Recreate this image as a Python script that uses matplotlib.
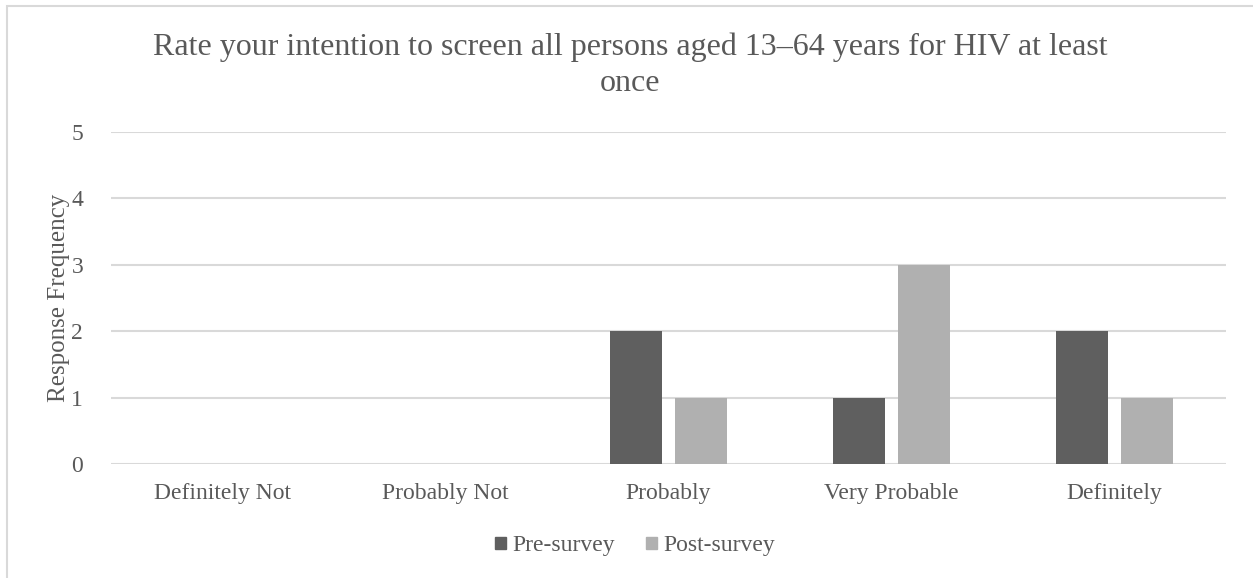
import numpy as np
import matplotlib.pyplot as plt
from matplotlib.patches import Rectangle, Patch

plt.rcParams['font.family'] = ['Liberation Serif', 'DejaVu Serif']

categories = ['Definitely Not', 'Probably Not', 'Probably', 'Very Probable', 'Definitely']
pre_survey = [0, 0, 2, 1, 2]
post_survey = [0, 0, 1, 3, 1]
y_ticks = [0, 1, 2, 3, 4, 5]
title_lines = ['Rate your intention to screen all persons aged 13\u201364 years for HIV at least',
               'once']

text_col = '#595959'
grid_col = '#d9d9d9'
pre_col = '#5f5f5f'
post_col = '#b0b0b0'

fig = plt.figure(figsize=(12.53, 5.78), dpi=100)

# light frame round the chart (left and top edges show)
fig.patches.append(Rectangle((7 / 1253, -0.1), 1.2, 1.1 - 6 / 578,
                             transform=fig.transFigure, fill=False,
                             edgecolor=grid_col, linewidth=1.5, zorder=10))

ax = fig.add_axes([111 / 1253, 1 - 464 / 578, 1115 / 1253, 332 / 578])

x = np.arange(len(categories))
w = 0.233
ax.bar(x - 0.145, pre_survey, w, color=pre_col, label='Pre-survey', zorder=3)
ax.bar(x + 0.145, post_survey, w, color=post_col, label='Post-survey', zorder=3)

ax.set_xlim(-0.5, len(categories) - 0.5)
ax.set_ylim(0, 5)
ax.set_yticks(y_ticks)
ax.set_xticks(x)
ax.set_xticklabels(categories)
ax.tick_params(axis='both', length=0, labelsize=17, labelcolor=text_col)
ax.tick_params(axis='x', pad=14)
ax.tick_params(axis='y', pad=20)
ax.grid(axis='y', color=grid_col, linewidth=1.5, zorder=0)
for s in ax.spines.values():
    s.set_visible(False)

ax.set_ylabel('Response Frequency', fontsize=18, color=text_col, labelpad=1)

# two-line title, each line on its own baseline
for i, line in enumerate(title_lines):
    fig.text(630 / 1253, 1 - (55 + 36 * i) / 578, line,
             ha='center', va='baseline', fontsize=23, color=text_col)

handles = [Patch(color=pre_col, label='Pre-survey'),
           Patch(color=post_col, label='Post-survey')]
fig.legend(handles=handles, loc='center', bbox_to_anchor=(635 / 1253, 1 - 546 / 578),
           ncol=2, frameon=False, fontsize=17, labelcolor=text_col,
           handlelength=0.45, handleheight=0.45, handletextpad=0.25, columnspacing=1.35)

fig.savefig('out.png', dpi=100)
